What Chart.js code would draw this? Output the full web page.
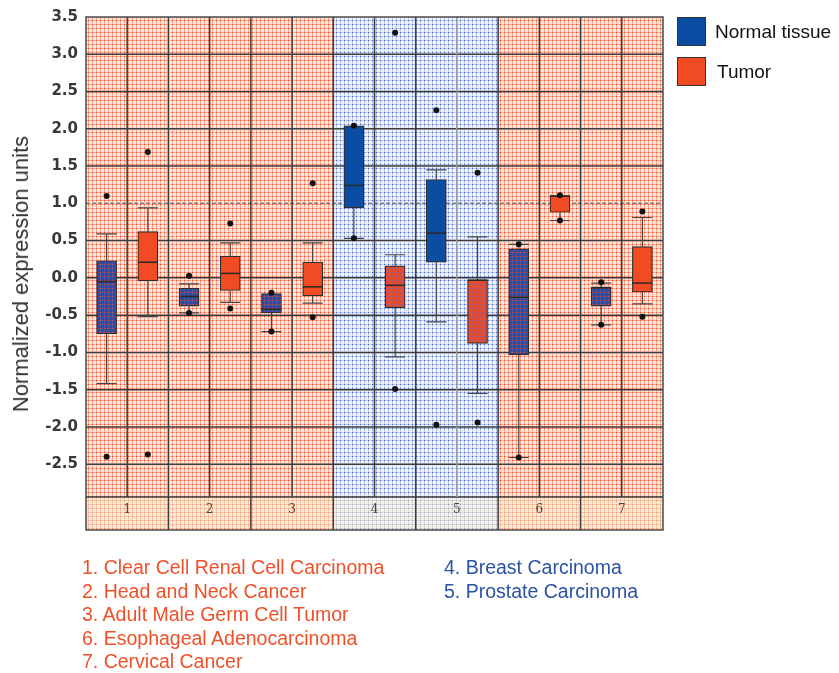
<!DOCTYPE html>
<html>
<head>
<meta charset="utf-8">
<script src="https://cdn.jsdelivr.net/npm/chart.js@4.4.0/dist/chart.umd.min.js"></script>
<style>
  body { margin: 0; background: #fff; font-family: 'Liberation Sans', Arial, sans-serif; }
  #wrap { position: relative; width: 839px; height: 673px; overflow: hidden; }
  #chart { position: absolute; left: 0; top: 0; }
  .ytitle { position: absolute; left: 21px; top: 274px; transform: translate(-50%, -50%) rotate(-90deg);
            font-size: 22px; color: #333; white-space: nowrap; }
  .sw { position: absolute; width: 27px; height: 27px; border: 1.5px solid #333; }
  .lgt { position: absolute; font-size: 19px; color: #111; line-height: 20px; white-space: nowrap; }
  .cat { position: absolute; font-size: 19.5px; line-height: 20px; white-space: nowrap; }
</style>
</head>
<body>
<div id="wrap">
  <canvas id="chart" width="839" height="673"></canvas>
  <div class="ytitle">Normalized expression units</div>
  <div id="legend"></div>
  <div id="cats"></div>
</div>
<script>
// groups on the x axis
const groups = ['1', '2', '3', '4', '5', '6', '7'];
const groupNames = [
  'Clear Cell Renal Cell Carcinoma',
  'Head and Neck Cancer',
  'Adult Male Germ Cell Tumor',
  'Breast Carcinoma',
  'Prostate Carcinoma',
  'Esophageal Adenocarcinoma',
  'Cervical Cancer'
];
const groupColor = ['red', 'red', 'red', 'blue', 'blue', 'red', 'red'];

// y ticks
const yTicks = [3.5, 3.0, 2.5, 2.0, 1.5, 1.0, 0.5, 0.0, -0.5, -1.0, -1.5, -2.0, -2.5];

// Normal tissue boxes
const normalQ3  = [0.23, -0.14, -0.21, 2.04, 1.32, 0.39, -0.13];
const normalQ1  = [-0.75, -0.38, -0.47, 0.94, 0.21, -1.03, -0.38];
const normalMed = [-0.05, -0.25, -0.42, 1.24, 0.60, -0.26, -0.13];
const normalHi  = [0.59, -0.08, -0.21, 2.04, 1.45, 0.45, -0.07];
const normalLo  = [-1.42, -0.47, -0.72, 0.53, -0.59, -2.41, -0.63];
const normalOut = [[1.10, -2.40], [0.03, -0.47], [-0.20, -0.72], [2.04, 0.53], [2.25, -1.97], [0.45, -2.41], [-0.06, -0.63]];

// Tumor boxes
const tumorQ3  = [0.62, 0.29, 0.21, 0.16, -0.03, 1.10, 0.42];
const tumorQ1  = [-0.04, -0.17, -0.24, -0.40, -0.88, 0.88, -0.19];
const tumorMed = [0.21, 0.06, -0.12, -0.10, -0.03, 1.10, -0.07];
const tumorHi  = [0.94, 0.47, 0.47, 0.31, 0.55, 1.10, 0.81];
const tumorLo  = [-0.52, -0.33, -0.34, -1.06, -1.55, 0.77, -0.35];
const tumorOut = [[1.69, -2.37], [0.73, -0.41], [1.27, -0.53], [3.29, -1.49], [1.41, -1.94], [1.11, 0.77], [0.89, -0.52]];

const BLUE = '#0c4da4';
const RED = '#f04b23';
const TEXT_RED = '#ef5028';
const TEXT_BLUE = '#2b52a3';

// small dotted textures like the scanned background
function makePattern(bg, line, dot, size) {
  const c = document.createElement('canvas');
  c.width = size; c.height = size;
  const g = c.getContext('2d');
  g.fillStyle = bg; g.fillRect(0, 0, size, size);
  g.fillStyle = line;
  g.fillRect(0, 0, size, 1);
  g.fillRect(0, 0, 1, size);
  g.fillStyle = dot; g.fillRect(0, 0, 1, 1);
  return g.createPattern(c, 'repeat');
}

const bgRed = makePattern('#fce4da', '#f7ad96', '#ec4828', 4);
const bgBlue = makePattern('#eef2fa', '#bfcbea', '#4a6abd', 4);
const normalOnRed = makePattern('#2b4ea2', '#4f4f9c', '#cc5040', 4);
const tumorOnBlue = makePattern('#ea4a2a', '#dc4c3a', '#8060a0', 4);

const seriesInfo = [
  { off: 0.25, q1: normalQ1, q3: normalQ3, med: normalMed, lo: normalLo, hi: normalHi },
  { off: 0.75, q1: tumorQ1, q3: tumorQ3, med: tumorMed, lo: tumorLo, hi: tumorHi }
];

const backgroundPlugin = {
  id: 'bgTexture',
  beforeDraw(chart) {
    const { ctx, chartArea, scales: { x } } = chart;
    const bottom = x.bottom;
    ctx.save();
    groups.forEach((g, i) => {
      const x0 = x.getPixelForValue(i);
      const x1 = x.getPixelForValue(i + 1);
      ctx.fillStyle = groupColor[i] === 'blue' ? bgBlue : bgRed;
      ctx.fillRect(x0, chartArea.top, x1 - x0, bottom - chartArea.top);
    });
    // label band tint
    ctx.fillStyle = 'rgba(248, 238, 200, 0.45)';
    ctx.fillRect(chartArea.left, chartArea.bottom, chartArea.right - chartArea.left, bottom - chartArea.bottom);
    ctx.restore();
  }
};

const gridPlugin = {
  id: 'gridLines',
  beforeDatasetsDraw(chart) {
    const { ctx, chartArea, scales: { x, y } } = chart;
    const bottom = x.bottom;
    ctx.save();
    ctx.lineWidth = 1.5;
    // horizontal lines
    yTicks.forEach(v => {
      if (v === 3.5) return;
      const py = y.getPixelForValue(v);
      if (v === 1.0) {
        ctx.strokeStyle = '#808080';
        ctx.setLineDash([4, 2]);
      } else {
        ctx.strokeStyle = '#3c3c3c';
        ctx.setLineDash([]);
      }
      ctx.beginPath();
      ctx.moveTo(chartArea.left, py);
      ctx.lineTo(chartArea.right, py);
      ctx.stroke();
    });
    ctx.setLineDash([]);
    ctx.strokeStyle = '#3c3c3c';
    ctx.beginPath();
    ctx.moveTo(chartArea.left, chartArea.bottom);
    ctx.lineTo(chartArea.right, chartArea.bottom);
    ctx.stroke();
    // vertical lines: group edges full height, group centres stop at the band
    groups.forEach((g, i) => {
      if (i > 0) {
        const px = x.getPixelForValue(i);
        ctx.strokeStyle = '#3c3c3c';
        ctx.beginPath();
        ctx.moveTo(px, chartArea.top);
        ctx.lineTo(px, bottom);
        ctx.stroke();
      }
      const pc = x.getPixelForValue(i + 0.5);
      ctx.strokeStyle = i === 4 ? '#9a9a9a' : '#3c3c3c';
      ctx.beginPath();
      ctx.moveTo(pc, chartArea.top);
      ctx.lineTo(pc, chartArea.bottom);
      ctx.stroke();
    });
    // whiskers
    ctx.strokeStyle = '#444';
    ctx.lineWidth = 1.2;
    seriesInfo.forEach(s => {
      groups.forEach((g, i) => {
        const px = x.getPixelForValue(i + s.off);
        const pairs = [[s.q3[i], s.hi[i]], [s.q1[i], s.lo[i]]];
        pairs.forEach(([a, b]) => {
          if (a === b) return;
          const pa = y.getPixelForValue(a);
          const pb = y.getPixelForValue(b);
          ctx.beginPath();
          ctx.moveTo(px, pa);
          ctx.lineTo(px, pb);
          ctx.moveTo(px - 10, pb);
          ctx.lineTo(px + 10, pb);
          ctx.stroke();
        });
      });
    });
    ctx.restore();
  },
  afterDatasetsDraw(chart) {
    const { ctx, chartArea, scales: { x, y } } = chart;
    ctx.save();
    // medians
    ctx.strokeStyle = '#2a2a2a';
    ctx.lineWidth = 1.5;
    seriesInfo.forEach(s => {
      groups.forEach((g, i) => {
        const px = x.getPixelForValue(i + s.off);
        const pm = y.getPixelForValue(s.med[i]);
        ctx.beginPath();
        ctx.moveTo(px - 10, pm);
        ctx.lineTo(px + 10, pm);
        ctx.stroke();
      });
    });
    // outliers on top
    ctx.fillStyle = '#111';
    [[normalOut, 0.25], [tumorOut, 0.75]].forEach(([arr, off]) => {
      arr.forEach((vals, i) => {
        vals.forEach(v => {
          ctx.beginPath();
          ctx.arc(x.getPixelForValue(i + off), y.getPixelForValue(v), 3, 0, Math.PI * 2);
          ctx.fill();
        });
      });
    });
    // plot border
    ctx.strokeStyle = '#4a4a4a';
    ctx.lineWidth = 1.5;
    ctx.strokeRect(chartArea.left, chartArea.top, chartArea.right - chartArea.left, x.bottom - chartArea.top);
    ctx.restore();
  }
};

function loadGraph() {
  const config = {
    type: 'bar',
    data: {
      datasets: [
        {
          label: 'Normal tissue',
          data: groups.map((g, i) => ({ x: i + 0.25, y: [normalQ1[i], normalQ3[i]] })),
          backgroundColor: c => groupColor[c.dataIndex] === 'red' ? normalOnRed : BLUE,
          borderColor: '#2e2e2e',
          borderWidth: 1.2,
          borderSkipped: false,
          barThickness: 20,
          grouped: false
        },
        {
          label: 'Tumor',
          data: groups.map((g, i) => ({ x: i + 0.75, y: [tumorQ1[i], tumorQ3[i]] })),
          backgroundColor: c => groupColor[c.dataIndex] === 'blue' ? tumorOnBlue : RED,
          borderColor: '#2e2e2e',
          borderWidth: 1.2,
          borderSkipped: false,
          barThickness: 20,
          grouped: false
        }
      ]
    },
    options: {
      responsive: false,
      animation: false,
      layout: { padding: { top: 17, right: 176, bottom: 143, left: 0 } },
      scales: {
        x: {
          type: 'linear',
          min: 0,
          max: 7,
          offset: false,
          grid: { display: false, drawTicks: false, offset: false },
          border: { display: false },
          afterFit: s => { s.height = 33; },
          afterBuildTicks: s => { s.ticks = groups.map((g, i) => ({ value: i + 0.5 })); },
          ticks: {
            autoSkip: false,
            maxRotation: 0,
            padding: 6,
            color: '#444',
            font: { family: 'DejaVu Serif', size: 12 },
            callback: v => groups[Math.round(v - 0.5)]
          }
        },
        y: {
          min: -2.94,
          max: 3.5,
          grid: { display: false, drawTicks: false },
          border: { display: false },
          afterFit: s => { s.width = 86; },
          afterBuildTicks: s => { s.ticks = yTicks.map(v => ({ value: v })); },
          ticks: {
            padding: 8,
            color: '#383838',
            font: { family: 'DejaVu Sans', size: 15, weight: 'bold' },
            callback: v => v.toFixed(1)
          }
        }
      },
      plugins: {
        legend: { display: false },
        tooltip: { enabled: false }
      }
    },
    plugins: [backgroundPlugin, gridPlugin]
  };
  new Chart(document.getElementById('chart').getContext('2d'), config);
}

function buildText() {
  const legend = document.getElementById('legend');
  [['Normal tissue', BLUE, 17, 715], ['Tumor', RED, 57, 717]].forEach(([t, col, top, tx]) => {
    const sw = document.createElement('div');
    sw.className = 'sw';
    sw.style.left = '677px';
    sw.style.top = top + 'px';
    sw.style.background = col;
    legend.appendChild(sw);
    const lt = document.createElement('div');
    lt.className = 'lgt';
    lt.style.left = tx + 'px';
    lt.style.top = (top + 5) + 'px';
    lt.textContent = t;
    legend.appendChild(lt);
  });

  const cats = document.getElementById('cats');
  let rowRed = 0, rowBlue = 0;
  groupNames.forEach((name, i) => {
    const d = document.createElement('div');
    d.className = 'cat';
    const isBlue = groupColor[i] === 'blue';
    const row = isBlue ? rowBlue++ : rowRed++;
    d.style.left = (isBlue ? 444 : 82) + 'px';
    d.style.top = (557 + row * 23.6) + 'px';
    d.style.color = isBlue ? TEXT_BLUE : TEXT_RED;
    d.textContent = groups[i] + '. ' + name;
    cats.appendChild(d);
  });
}

document.addEventListener('DOMContentLoaded', function () {
  loadGraph();
  buildText();
});
</script>
</body>
</html>
